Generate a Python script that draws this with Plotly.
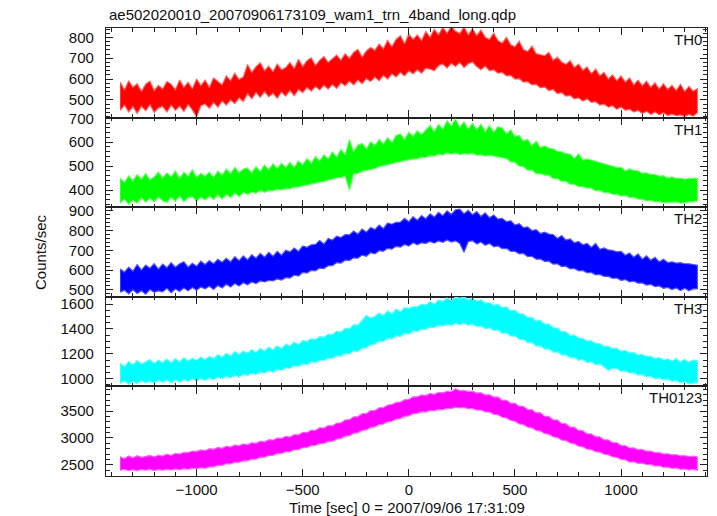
import plotly.graph_objects as go
from plotly.subplots import make_subplots

# Time bins (sec) relative to 2007/09/06 17:31:09, 20 s steps from -1360 to 1360
time_sec = list(range(-1360, 1361, 20))

# Upper / lower edges of each light curve's scatter band (counts/sec)
th0_hi = [585, 548, 592, 560, 578, 540, 575, 590, 545, 570,
          552, 588, 575, 548, 595, 560, 585, 552, 600, 568,
          595, 560, 605, 588, 572, 615, 592, 628, 598, 610,
          670, 632, 660, 678, 640, 662, 635, 672, 645, 655,
          680, 650, 695, 660, 688, 702, 665, 690, 708, 680,
          698, 715, 690, 722, 700, 728, 742, 705, 735, 752,
          738, 768, 745, 785, 755, 790, 808, 770, 815, 790,
          812, 785, 828, 800, 838, 812, 848, 820, 852, 830,
          818, 850, 812, 842, 808, 835, 800, 790, 820, 785,
          772, 800, 765, 755, 782, 742, 732, 758, 722, 718,
          712, 728, 690, 705, 682, 670, 688, 655, 672, 642,
          658, 625, 648, 615, 632, 600, 620, 592, 615, 585,
          605, 572, 595, 568, 590, 560, 582, 552, 578, 550,
          570, 545, 575, 540, 565, 542, 555]
th0_lo = [450, 475, 442, 468, 435, 470, 448, 478, 440, 462,
          468, 442, 475, 450, 470, 445, 478, 452, 418, 472,
          480, 460, 488, 465, 495, 475, 500, 482, 510, 492,
          530, 505, 535, 512, 540, 515, 532, 508, 538, 518,
          545, 520, 550, 535, 560, 542, 565, 548, 570, 552,
          575, 555, 582, 568, 590, 572, 595, 578, 602, 588,
          610, 592, 618, 600, 625, 610, 632, 615, 640, 625,
          645, 628, 652, 648, 640, 665, 672, 652, 676, 660,
          680, 655, 674, 682, 660, 645, 662, 640, 645, 628,
          632, 615, 618, 600, 602, 585, 588, 572, 575, 558,
          562, 545, 550, 530, 535, 518, 522, 505, 510, 494,
          505, 488, 492, 475, 480, 465, 472, 455, 466, 450,
          456, 442, 450, 435, 446, 430, 442, 428, 438, 425,
          432, 424, 428, 420, 430, 422, 438]

th1_hi = [450, 432, 460, 438, 465, 445, 470, 442, 455, 475,
          450, 472, 455, 480, 448, 475, 458, 485, 452, 470,
          458, 475, 452, 480, 462, 488, 468, 495, 472, 488,
          492, 472, 498, 478, 505, 485, 510, 490, 512, 495,
          515, 495, 522, 505, 532, 512, 540, 522, 548, 530,
          560, 538, 570, 548, 612, 560, 588, 595, 572, 602,
          585, 612, 592, 620, 598, 628, 635, 612, 642, 625,
          648, 632, 652, 670, 645, 675, 655, 690, 668, 698,
          662, 685, 655, 680, 652, 676, 645, 670, 642, 665,
          660, 635, 652, 625, 628, 605, 612, 585, 605, 578,
          585, 575, 572, 562, 560, 552, 550, 532, 552, 525,
          530, 525, 520, 512, 510, 505, 500, 495, 495, 480,
          488, 482, 480, 470, 472, 465, 465, 458, 460, 450,
          455, 448, 450, 445, 448, 450, 448]
th1_lo = [345, 362, 340, 358, 345, 368, 348, 365, 350, 370,
          355, 348, 370, 352, 375, 350, 368, 372, 352, 370,
          358, 375, 360, 380, 362, 382, 368, 388, 372, 390,
          382, 392, 386, 398, 390, 398, 396, 404, 400, 406,
          405, 412, 412, 418, 420, 426, 428, 434, 435, 442,
          445, 452, 452, 458, 400, 468, 470, 478, 480, 486,
          490, 498, 500, 506, 510, 516, 518, 524, 526, 530,
          530, 538, 536, 544, 542, 550, 546, 556, 550, 555,
          548, 552, 550, 554, 545, 548, 542, 545, 540, 538,
          535, 532, 518, 516, 500, 498, 482, 484, 468, 468,
          462, 462, 448, 448, 436, 436, 424, 424, 414, 414,
          408, 408, 396, 398, 388, 390, 382, 383, 374, 377,
          368, 370, 362, 362, 354, 356, 350, 352, 346, 348,
          348, 350, 345, 346, 350, 350, 355]

th2_hi = [605, 590, 615, 595, 628, 600, 625, 610, 632, 605,
          630, 612, 638, 615, 632, 642, 615, 635, 620, 645,
          628, 648, 632, 655, 640, 660, 642, 668, 648, 672,
          652, 678, 660, 685, 665, 690, 670, 695, 675, 700,
          692, 712, 695, 722, 715, 728, 730, 750, 732, 760,
          752, 772, 765, 780, 778, 798, 782, 808, 792, 815,
          805, 828, 810, 838, 832, 842, 842, 862, 845, 870,
          852, 876, 860, 885, 868, 892, 875, 900, 882, 905,
          908, 885, 902, 880, 896, 872, 890, 865, 878, 858,
          862, 845, 850, 828, 835, 815, 818, 800, 805, 785,
          792, 782, 780, 760, 775, 752, 758, 738, 745, 728,
          735, 715, 735, 705, 712, 702, 700, 692, 695, 675,
          686, 665, 682, 655, 672, 650, 665, 642, 655, 638,
          642, 635, 638, 632, 632, 628, 625]
th2_lo = [488, 498, 480, 500, 482, 496, 478, 502, 488, 495,
          490, 508, 485, 505, 492, 510, 495, 512, 498, 515,
          505, 518, 502, 522, 510, 528, 515, 532, 520, 536,
          526, 540, 532, 545, 540, 548, 545, 555, 550, 562,
          560, 575, 570, 588, 585, 598, 596, 610, 608, 622,
          622, 638, 635, 650, 648, 662, 660, 676, 670, 688,
          682, 698, 695, 710, 706, 720, 716, 730, 722, 738,
          728, 738, 735, 745, 736, 748, 740, 752, 742, 748,
          735, 690, 745, 748, 732, 742, 725, 735, 718, 722,
          708, 710, 695, 695, 682, 684, 668, 670, 655, 656,
          644, 645, 630, 632, 618, 620, 606, 608, 596, 598,
          586, 588, 576, 578, 568, 568, 558, 560, 548, 552,
          540, 544, 534, 535, 524, 528, 516, 520, 508, 512,
          502, 510, 496, 508, 495, 505, 505]

th3_hi = [1125, 1098, 1140, 1110, 1148, 1118, 1135, 1155, 1120, 1150,
          1130, 1158, 1128, 1162, 1135, 1170, 1142, 1165, 1148, 1175,
          1152, 1180, 1160, 1195, 1172, 1205, 1182, 1220, 1195, 1222,
          1205, 1235, 1210, 1245, 1222, 1255, 1232, 1265, 1242, 1278,
          1262, 1295, 1272, 1308, 1298, 1322, 1315, 1340, 1332, 1358,
          1355, 1382, 1375, 1405, 1400, 1435, 1430, 1470, 1510, 1488,
          1502, 1528, 1508, 1545, 1522, 1560, 1538, 1572, 1565, 1580,
          1578, 1600, 1592, 1620, 1598, 1632, 1622, 1648, 1628, 1655,
          1645, 1658, 1632, 1650, 1622, 1635, 1608, 1612, 1590, 1598,
          1572, 1578, 1545, 1552, 1522, 1520, 1492, 1495, 1462, 1470,
          1438, 1440, 1410, 1408, 1378, 1378, 1348, 1352, 1328, 1325,
          1302, 1305, 1282, 1282, 1260, 1262, 1242, 1245, 1222, 1228,
          1208, 1212, 1190, 1196, 1178, 1182, 1162, 1170, 1152, 1160,
          1142, 1162, 1135, 1155, 1132, 1152, 1145]
th3_lo = [962, 982, 955, 978, 960, 985, 965, 980, 962, 988,
          970, 990, 968, 992, 972, 995, 978, 1000, 980, 1002,
          985, 1005, 990, 1012, 998, 1020, 1005, 1028, 1012, 1035,
          1025, 1045, 1032, 1052, 1044, 1065, 1052, 1075, 1066, 1088,
          1082, 1105, 1098, 1118, 1112, 1136, 1128, 1150, 1145, 1166,
          1162, 1186, 1180, 1204, 1198, 1224, 1218, 1246, 1248, 1272,
          1278, 1302, 1298, 1325, 1318, 1346, 1338, 1364, 1358, 1384,
          1378, 1400, 1395, 1415, 1410, 1430, 1422, 1435, 1428, 1445,
          1432, 1448, 1428, 1438, 1418, 1422, 1402, 1408, 1388, 1392,
          1365, 1368, 1342, 1342, 1315, 1315, 1288, 1290, 1262, 1262,
          1238, 1240, 1212, 1216, 1190, 1192, 1168, 1172, 1148, 1154,
          1130, 1136, 1112, 1118, 1094, 1068, 1082, 1082, 1058, 1064,
          1044, 1048, 1028, 1032, 1014, 1018, 998, 1006, 990, 996,
          978, 985, 966, 975, 958, 965, 968]

th0123_hi = [2648, 2615, 2662, 2630, 2668, 2638, 2655, 2675, 2645, 2680,
             2662, 2698, 2675, 2712, 2700, 2730, 2725, 2755, 2748, 2778,
             2762, 2800, 2788, 2822, 2805, 2845, 2830, 2868, 2852, 2890,
             2872, 2910, 2898, 2940, 2928, 2968, 2958, 3000, 2990, 3030,
             3015, 3062, 3055, 3105, 3098, 3145, 3140, 3190, 3182, 3232,
             3222, 3278, 3280, 3335, 3338, 3392, 3398, 3452, 3455, 3510,
             3510, 3562, 3562, 3612, 3622, 3662, 3665, 3712, 3716, 3765,
             3765, 3800, 3790, 3828, 3812, 3850, 3838, 3872, 3862, 3915,
             3878, 3885, 3865, 3870, 3835, 3842, 3798, 3805, 3760, 3765,
             3700, 3705, 3645, 3648, 3588, 3590, 3525, 3528, 3465, 3470,
             3405, 3400, 3335, 3335, 3270, 3265, 3202, 3200, 3138, 3135,
             3075, 3075, 3020, 3020, 2965, 2965, 2910, 2912, 2858, 2858,
             2812, 2815, 2782, 2785, 2752, 2756, 2725, 2730, 2700, 2708,
             2682, 2690, 2665, 2672, 2650, 2660, 2646]
th0123_lo = [2392, 2415, 2388, 2410, 2385, 2415, 2395, 2418, 2390, 2410,
             2395, 2418, 2400, 2422, 2405, 2428, 2415, 2435, 2425, 2445,
             2432, 2462, 2460, 2490, 2488, 2518, 2515, 2548, 2545, 2575,
             2572, 2605, 2602, 2640, 2638, 2672, 2675, 2708, 2710, 2742,
             2742, 2778, 2780, 2818, 2820, 2858, 2860, 2895, 2898, 2935,
             2935, 2980, 2988, 3032, 3042, 3088, 3095, 3142, 3150, 3198,
             3205, 3250, 3258, 3302, 3310, 3352, 3360, 3402, 3410, 3452,
             3460, 3488, 3482, 3512, 3505, 3532, 3525, 3552, 3545, 3572,
             3558, 3568, 3540, 3548, 3518, 3520, 3485, 3482, 3440, 3432,
             3385, 3372, 3325, 3310, 3260, 3248, 3200, 3188, 3140, 3128,
             3080, 3068, 3020, 3008, 2960, 2952, 2905, 2892, 2845, 2835,
             2790, 2782, 2742, 2735, 2695, 2688, 2645, 2638, 2598, 2592,
             2550, 2555, 2525, 2530, 2500, 2505, 2475, 2480, 2450, 2458,
             2430, 2440, 2415, 2422, 2402, 2412, 2398]

bands = ["TH0", "TH1", "TH2", "TH3", "TH0123"]
colors = ["#ff0000", "#00ff00", "#0000ff", "#00ffff", "#ff00ff"]
edge_colors = ["#ff6060", "#66ff66", "#5555ff", "#66ffff", "#ff66ff"]
highs = [th0_hi, th1_hi, th2_hi, th3_hi, th0123_hi]
lows = [th0_lo, th1_lo, th2_lo, th3_lo, th0123_lo]
y_ranges = [[415, 845], [328, 703], [465, 918], [938, 1658], [2290, 3960]]
y_dticks = [100, 100, 100, 200, 500]
y_minor = [20, 20, 20, 50, 100]

x_range = [-1427, 1405]
title_text = "ae502020010_20070906173109_wam1_trn_4band_long.qdp"
x_title = "Time [sec] 0 = 2007/09/06 17:31:09"
y_title = "Counts/sec"

FONT = "Liberation Sans, Arial, Helvetica, sans-serif"

fig = make_subplots(rows=5, cols=1, shared_xaxes=True, vertical_spacing=0)

for i, (name, col, ecol, hi, lo) in enumerate(zip(bands, colors, edge_colors, highs, lows)):
    fig.add_trace(go.Scatter(
        x=time_sec + time_sec[::-1],
        y=hi + lo[::-1],
        fill="toself", fillcolor=col, mode="lines",
        line=dict(color=ecol, width=1.2), hoverinfo="skip", showlegend=False,
    ), row=i + 1, col=1)
    fig.update_yaxes(
        range=y_ranges[i], dtick=y_dticks[i], tick0=0,
        ticks="inside", ticklen=7, tickwidth=1, tickcolor="#222",
        minor=dict(ticks="inside", dtick=y_minor[i], ticklen=3.5, tickcolor="#222", showgrid=False),
        showline=True, linecolor="#222", linewidth=1.3, mirror="ticks",
        showgrid=False, zeroline=False, ticklabelstandoff=8,
        tickfont=dict(size=15, color="#111", family=FONT),
        row=i + 1, col=1)
    fig.update_xaxes(
        range=x_range, dtick=500, tick0=0,
        ticks="inside", ticklen=7, tickwidth=1, tickcolor="#222",
        minor=dict(ticks="inside", dtick=100, ticklen=3.5, tickcolor="#222", showgrid=False),
        showline=True, linecolor="#222", linewidth=1.3, mirror="ticks",
        showgrid=False, zeroline=False,
        tickfont=dict(size=15, color="#111", family=FONT),
        row=i + 1, col=1)
    fig.add_annotation(text=name, xref="x domain" if i == 0 else f"x{i+1} domain",
                       yref="y domain" if i == 0 else f"y{i+1} domain",
                       x=1, y=1, xanchor="right", yanchor="top", xshift=-3, yshift=-1,
                       showarrow=False, font=dict(size=15, color="#111", family=FONT))

fig.add_annotation(text=title_text, xref="paper", yref="paper", x=0, y=1, xanchor="left",
                   yanchor="bottom", xshift=1, yshift=3, showarrow=False,
                   font=dict(size=15, color="#111", family=FONT))
fig.add_annotation(text=x_title, xref="paper", yref="paper", x=0.5, y=0, xanchor="center",
                   yanchor="middle", yshift=-31, showarrow=False,
                   font=dict(size=15, color="#111", family=FONT))
fig.add_annotation(text=y_title, xref="paper", yref="paper", x=0, y=0.5, xanchor="center",
                   yanchor="middle", xshift=-66, textangle=-90, showarrow=False,
                   font=dict(size=15, color="#111", family=FONT))

fig.update_layout(
    width=717, height=516,
    margin=dict(l=106, r=10, t=28, b=40, pad=0),
    paper_bgcolor="white", plot_bgcolor="white",
    font=dict(family=FONT, size=15, color="#111"),
)

# Remove the default page margin so the figure sits exactly in the 717x516 window.
fig.write_html("out.html",
               config={"displayModeBar": False},
               post_script="document.body.style.margin='0px';document.body.style.overflow='hidden';")
